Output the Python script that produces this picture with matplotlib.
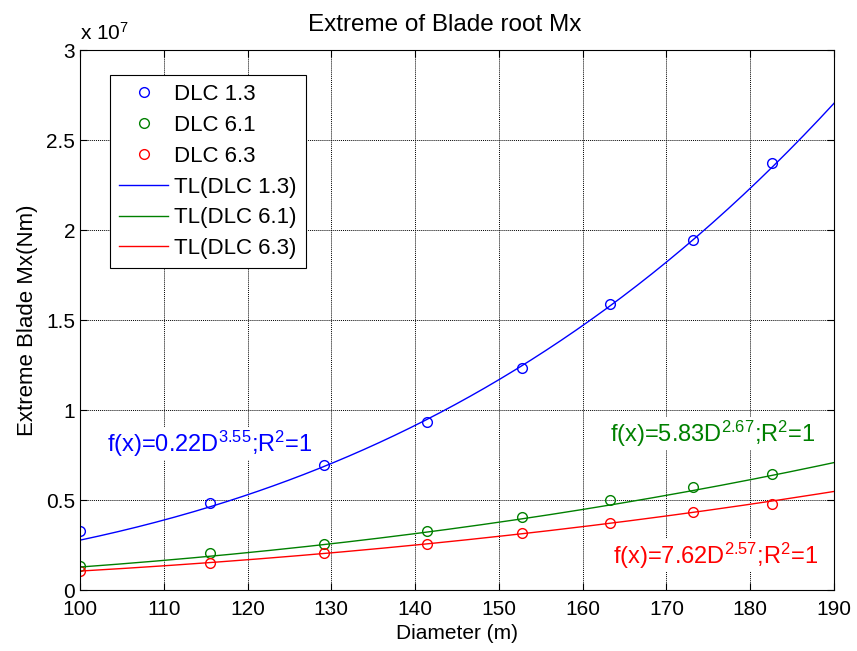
import numpy as np
import matplotlib
matplotlib.use('Agg')
import matplotlib.pyplot as plt
from matplotlib import font_manager
from matplotlib.ticker import FuncFormatter, MultipleLocator

# rotor diameter (m)
diameters = [100.0, 115.5, 129.1, 141.4, 152.8, 163.3, 173.2, 182.6]

# extreme blade root Mx (Nm)
mx_dlc13 = [3.29e6, 4.82e6, 6.94e6, 9.35e6, 1.235e7, 1.589e7, 1.944e7, 2.372e7]
mx_dlc61 = [1.35e6, 2.04e6, 2.54e6, 3.29e6, 4.04e6, 5.00e6, 5.74e6, 6.43e6]
mx_dlc63 = [1.07e6, 1.52e6, 2.04e6, 2.57e6, 3.15e6, 3.70e6, 4.35e6, 4.78e6]

# power-law trend lines as written on the chart: f(D) = a * D^b
fit_a = [0.22, 5.83, 7.62]
fit_b = [3.55, 2.67, 2.57]

labels_pts = ['DLC 1.3', 'DLC 6.1', 'DLC 6.3']
labels_fit = ['TL(DLC 1.3)', 'TL(DLC 6.1)', 'TL(DLC 6.3)']
colors = ['#0000ff', '#008000', '#ff0000']

plt.rcParams['font.family'] = ['Liberation Sans', 'DejaVu Sans']
plt.rcParams['mathtext.fontset'] = 'custom'
plt.rcParams['mathtext.rm'] = 'Liberation Sans'
plt.rcParams['mathtext.default'] = 'regular'

# MATLAB draws the x ticks narrow; use a narrow face if one is there
try:
    font_manager.findfont('Liberation Sans Narrow', fallback_to_default=False)
    narrow = 'Liberation Sans Narrow'
except Exception:
    narrow = 'Liberation Sans'


def main():
    fig = plt.figure(figsize=(8.57, 6.51), dpi=100)
    ax = fig.add_axes([80 / 857, 1 - 590 / 651, 754 / 857, 540 / 651])

    series = [mx_dlc13, mx_dlc61, mx_dlc63]
    for vals, lab, c in zip(series, labels_pts, colors):
        ax.plot(diameters, vals, 'o', mfc='none', mec=c, ms=7, mew=1.0, label=lab)

    d = np.linspace(100, 190, 200)
    for a, b, lab, c in zip(fit_a, fit_b, labels_fit, colors):
        ax.plot(d, a * d ** b, '-', color=c, lw=1.0, label=lab)

    ax.set_xlim(100, 190)
    ax.set_ylim(0, 3e7)
    ax.xaxis.set_major_locator(MultipleLocator(10))
    ax.yaxis.set_major_locator(MultipleLocator(0.5e7))
    ax.yaxis.set_major_formatter(FuncFormatter(lambda v, p: '%g' % (v / 1e7)))

    ax.grid(True, color='k', linestyle=(0, (1, 1)), lw=0.7)
    ax.tick_params(direction='in', top=True, right=True, length=5, width=0.8)
    ax.tick_params(axis='y', labelsize=15)
    ax.tick_params(axis='x', labelsize=15, pad=7)
    for t in ax.get_xticklabels():
        t.set_family(narrow)
    for s in ax.spines.values():
        s.set_linewidth(0.8)

    ax.set_title('Extreme of Blade root Mx', fontsize=17.5, pad=14, x=0.484)
    ax.set_xlabel('Diameter (m)', fontsize=15, family=narrow, labelpad=4)
    ax.set_ylabel('Extreme Blade Mx(Nm)', fontsize=16, labelpad=6)
    ax.text(0.0, 1.012, r'x 10$^7$', transform=ax.transAxes, fontsize=15,
            ha='left', va='bottom')

    box = dict(facecolor='white', edgecolor='none', pad=1)
    ax.text(103.2, 0.812e7, r'f(x)=0.22D$^{3.55}$;R$^2$=1', color=colors[0],
            fontsize=17, va='center', ha='left', bbox=box)
    ax.text(163.3, 0.867e7, r'f(x)=5.83D$^{2.67}$;R$^2$=1', color=colors[1],
            fontsize=17, va='center', ha='left', bbox=box)
    ax.text(163.6, 0.19e7, r'f(x)=7.62D$^{2.57}$;R$^2$=1', color=colors[2],
            fontsize=17, va='center', ha='left', bbox=box)

    leg = ax.legend(loc='upper left', bbox_to_anchor=(0.0398, 0.954), fontsize=16,
                    frameon=True, fancybox=False, framealpha=1, edgecolor='k',
                    handlelength=2.2, handletextpad=0.25, labelspacing=0.44,
                    borderpad=0.42, borderaxespad=0)
    leg.get_frame().set_linewidth(0.8)

    fig.savefig('out.png', dpi=100)


if __name__ == "__main__":
    main()
